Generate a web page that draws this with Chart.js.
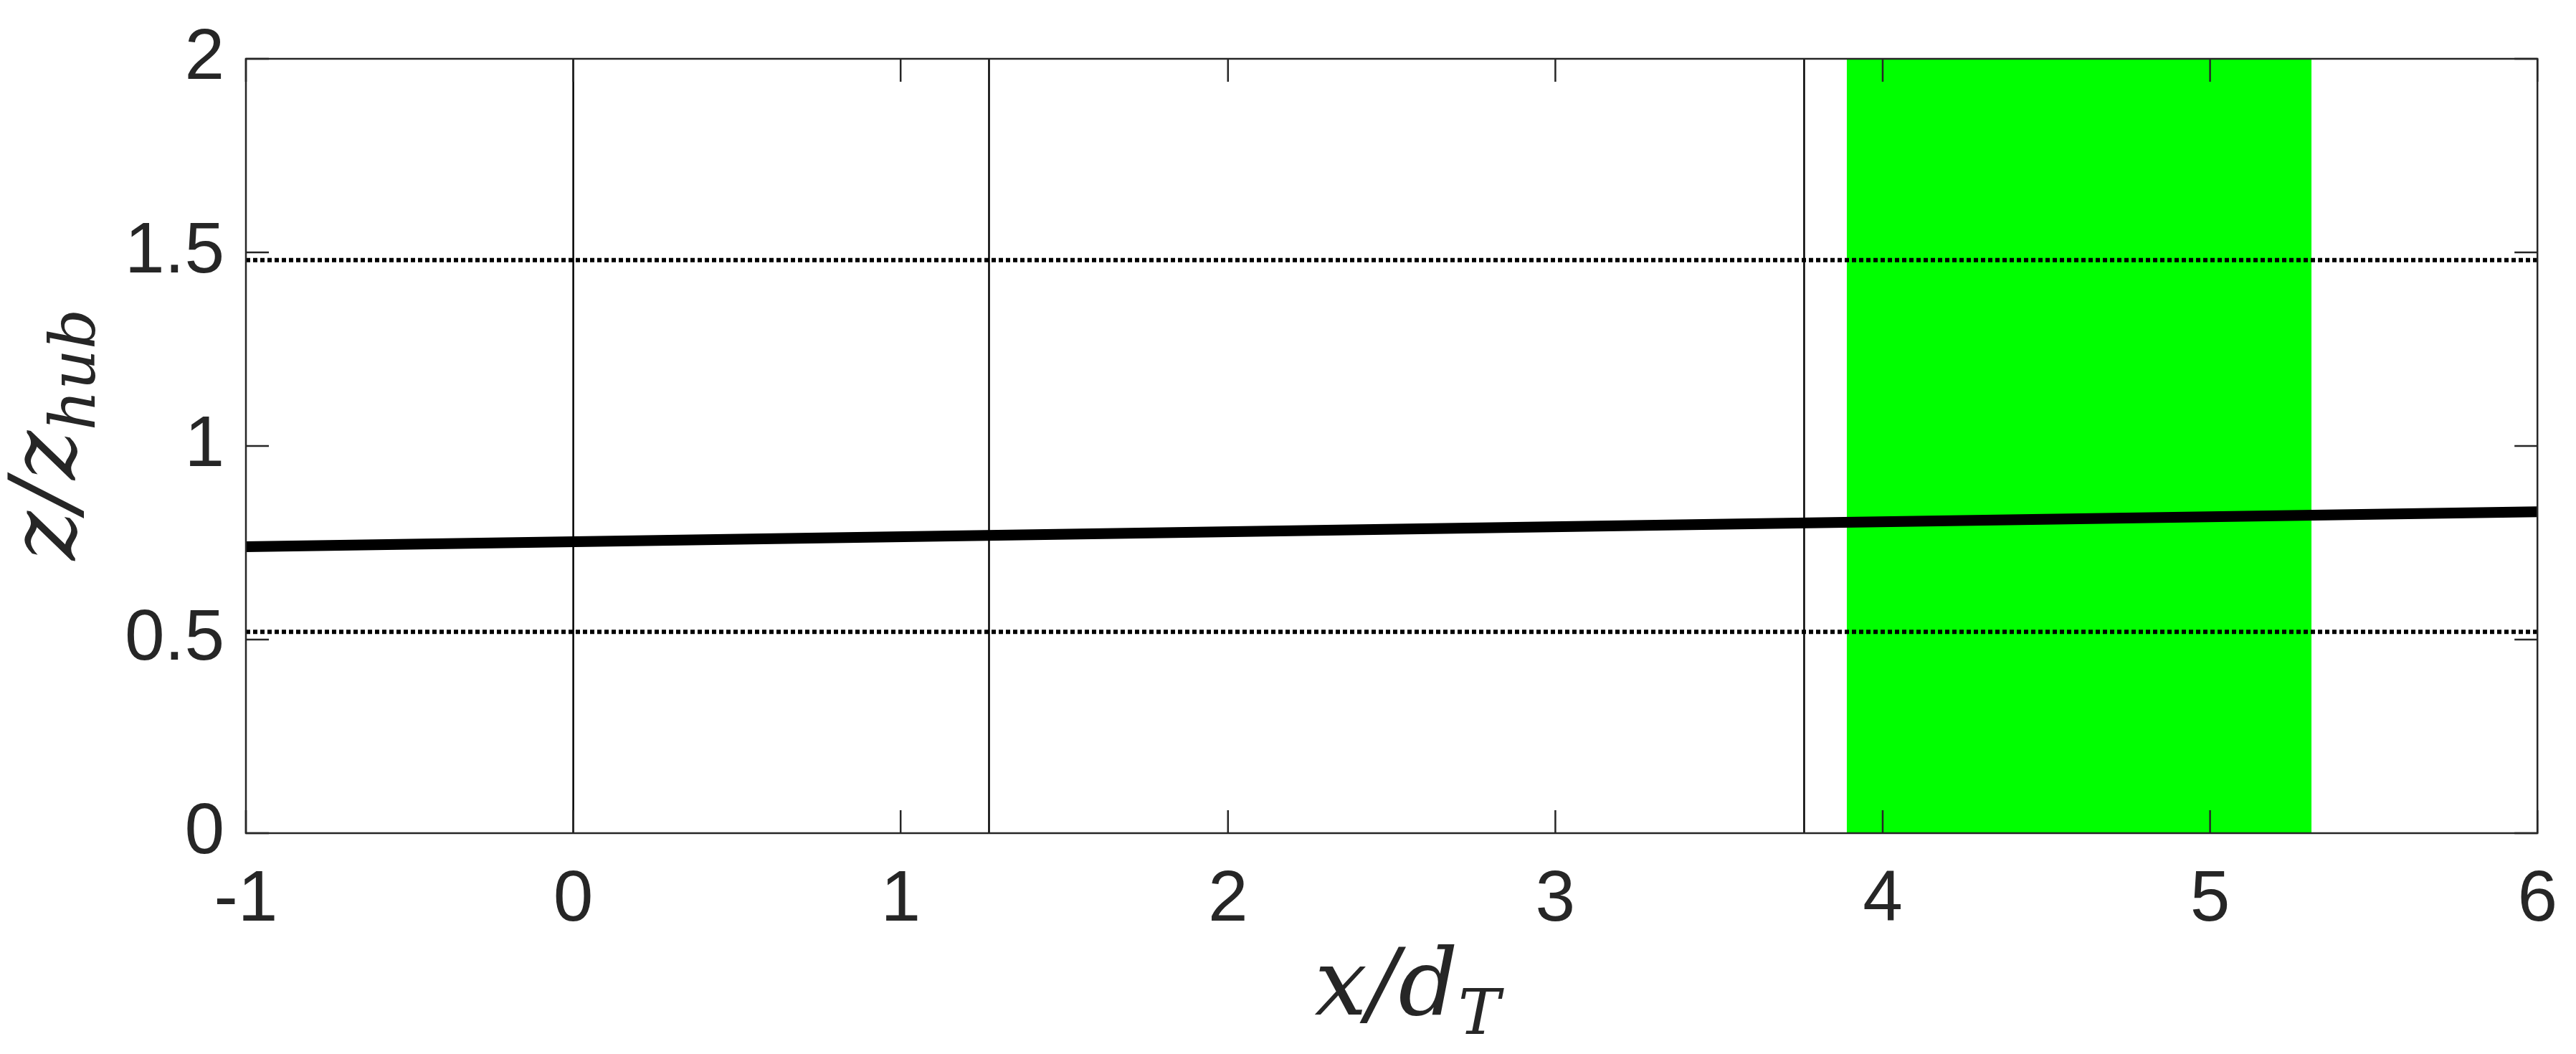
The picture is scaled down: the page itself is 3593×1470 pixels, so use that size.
<!DOCTYPE html>
<html>
<head>
<meta charset="utf-8">
<script src="https://cdn.jsdelivr.net/npm/chart.js@4"></script>
<style>
  html, body { margin: 0; padding: 0; background: #fff; }
  #wrap { width: 3593px; height: 1470px; }
</style>
</head>
<body>
<div id="wrap"><canvas id="chart" width="3593" height="1470"></canvas></div>
<script>
// axis ranges and ticks
const xTicks = [-1, 0, 1, 2, 3, 4, 5, 6];
const yTicks = [0, 0.5, 1, 1.5, 2];
// vertical marker lines (x/dT)
const markerX = [0, 1.27, 3.76];
// green band extent
const bandX = [3.89, 5.31];
// dotted horizontal lines (z/zhub)
const dottedY = [0.52, 1.48];
// thick line endpoints
const lineX = [-1, 6];
const lineY = [0.74, 0.83];

const datasets = [];
datasets.push({
    data: bandX.map(x => ({ x: x, y: 2 })),
    borderWidth: 0, pointRadius: 0,
    backgroundColor: '#00FF00', fill: 'origin', order: 5
});
markerX.forEach(x => datasets.push({
    data: [{ x: x, y: 0 }, { x: x, y: 2 }],
    borderColor: '#000', borderWidth: 2.5, pointRadius: 0, order: 3
}));
dottedY.forEach(y => datasets.push({
    data: [{ x: -1, y: y }, { x: 6, y: y }],
    borderColor: '#000', borderWidth: 6, borderDash: [6, 4], pointRadius: 0, order: 2
}));
datasets.push({
    data: lineX.map((x, i) => ({ x: x, y: lineY[i] })),
    borderColor: '#000', borderWidth: 15, pointRadius: 0, order: 1
});

const frame = {
    id: 'frame',
    afterDraw(chart) {
        const { ctx, chartArea: a, scales } = chart;
        ctx.save();
        ctx.strokeStyle = '#262626';
        ctx.lineWidth = 2.5;
        ctx.strokeRect(a.left, a.top, a.right - a.left, a.bottom - a.top);
        ctx.beginPath();
        const t = 32;
        xTicks.forEach(v => {
            const px = scales.x.getPixelForValue(v);
            ctx.moveTo(px, a.bottom); ctx.lineTo(px, a.bottom - t);
            ctx.moveTo(px, a.top); ctx.lineTo(px, a.top + t);
        });
        yTicks.forEach(v => {
            const py = scales.y.getPixelForValue(v);
            ctx.moveTo(a.left, py); ctx.lineTo(a.left + t, py);
            ctx.moveTo(a.right, py); ctx.lineTo(a.right - t, py);
        });
        ctx.stroke();

        // axis titles with subscripts
        ctx.fillStyle = '#262626';
        ctx.textBaseline = 'alphabetic';
        const big = 'italic 130px "DejaVu Serif"';
        const sub = 'italic 88px "DejaVu Serif"';
        ctx.font = big;
        const w1 = ctx.measureText('x/d').width;
        ctx.font = sub;
        const w2 = ctx.measureText('T').width;
        let x0 = 1963 - (w1 + w2) / 2;
        ctx.font = big;
        ctx.fillText('x/d', x0, 1415);
        ctx.font = sub;
        ctx.fillText('T', x0 + w1, 1442);

        ctx.translate(105, 606);
        ctx.rotate(-Math.PI / 2);
        ctx.font = big;
        const v1 = ctx.measureText('z/z').width;
        ctx.font = sub;
        const v2 = ctx.measureText('hub').width;
        x0 = -(v1 + v2) / 2;
        ctx.font = big;
        ctx.fillText('z/z', x0, 0);
        ctx.font = sub;
        ctx.fillText('hub', x0 + v1, 27);
        ctx.restore();
    }
};

new Chart(document.getElementById('chart'), {
    type: 'line',
    data: { datasets: datasets },
    options: {
        responsive: false,
        animation: false,
        devicePixelRatio: 1,
        layout: { padding: { top: 22, right: 9, left: 0, bottom: 0 } },
        plugins: { legend: { display: false }, tooltip: { enabled: false } },
        scales: {
            x: {
                type: 'linear', min: -1, max: 6,
                afterBuildTicks: s => { s.ticks = xTicks.map(v => ({ value: v })); },
                afterFit: s => { s.height = 308; },
                grid: { display: false },
                border: { display: false },
                ticks: { color: '#262626', font: { family: 'Liberation Sans', size: 100 }, padding: 26,
                         callback: v => String(v) }
            },
            y: {
                type: 'linear', min: 0, max: 2,
                afterBuildTicks: s => { s.ticks = yTicks.map(v => ({ value: v })); },
                afterFit: s => { s.width = 343; },
                grid: { display: false },
                border: { display: false },
                ticks: { color: '#262626', font: { family: 'Liberation Sans', size: 100 }, padding: 22,
                         callback: v => String(v) }
            }
        }
    },
    plugins: [frame]
});
</script>
</body>
</html>
